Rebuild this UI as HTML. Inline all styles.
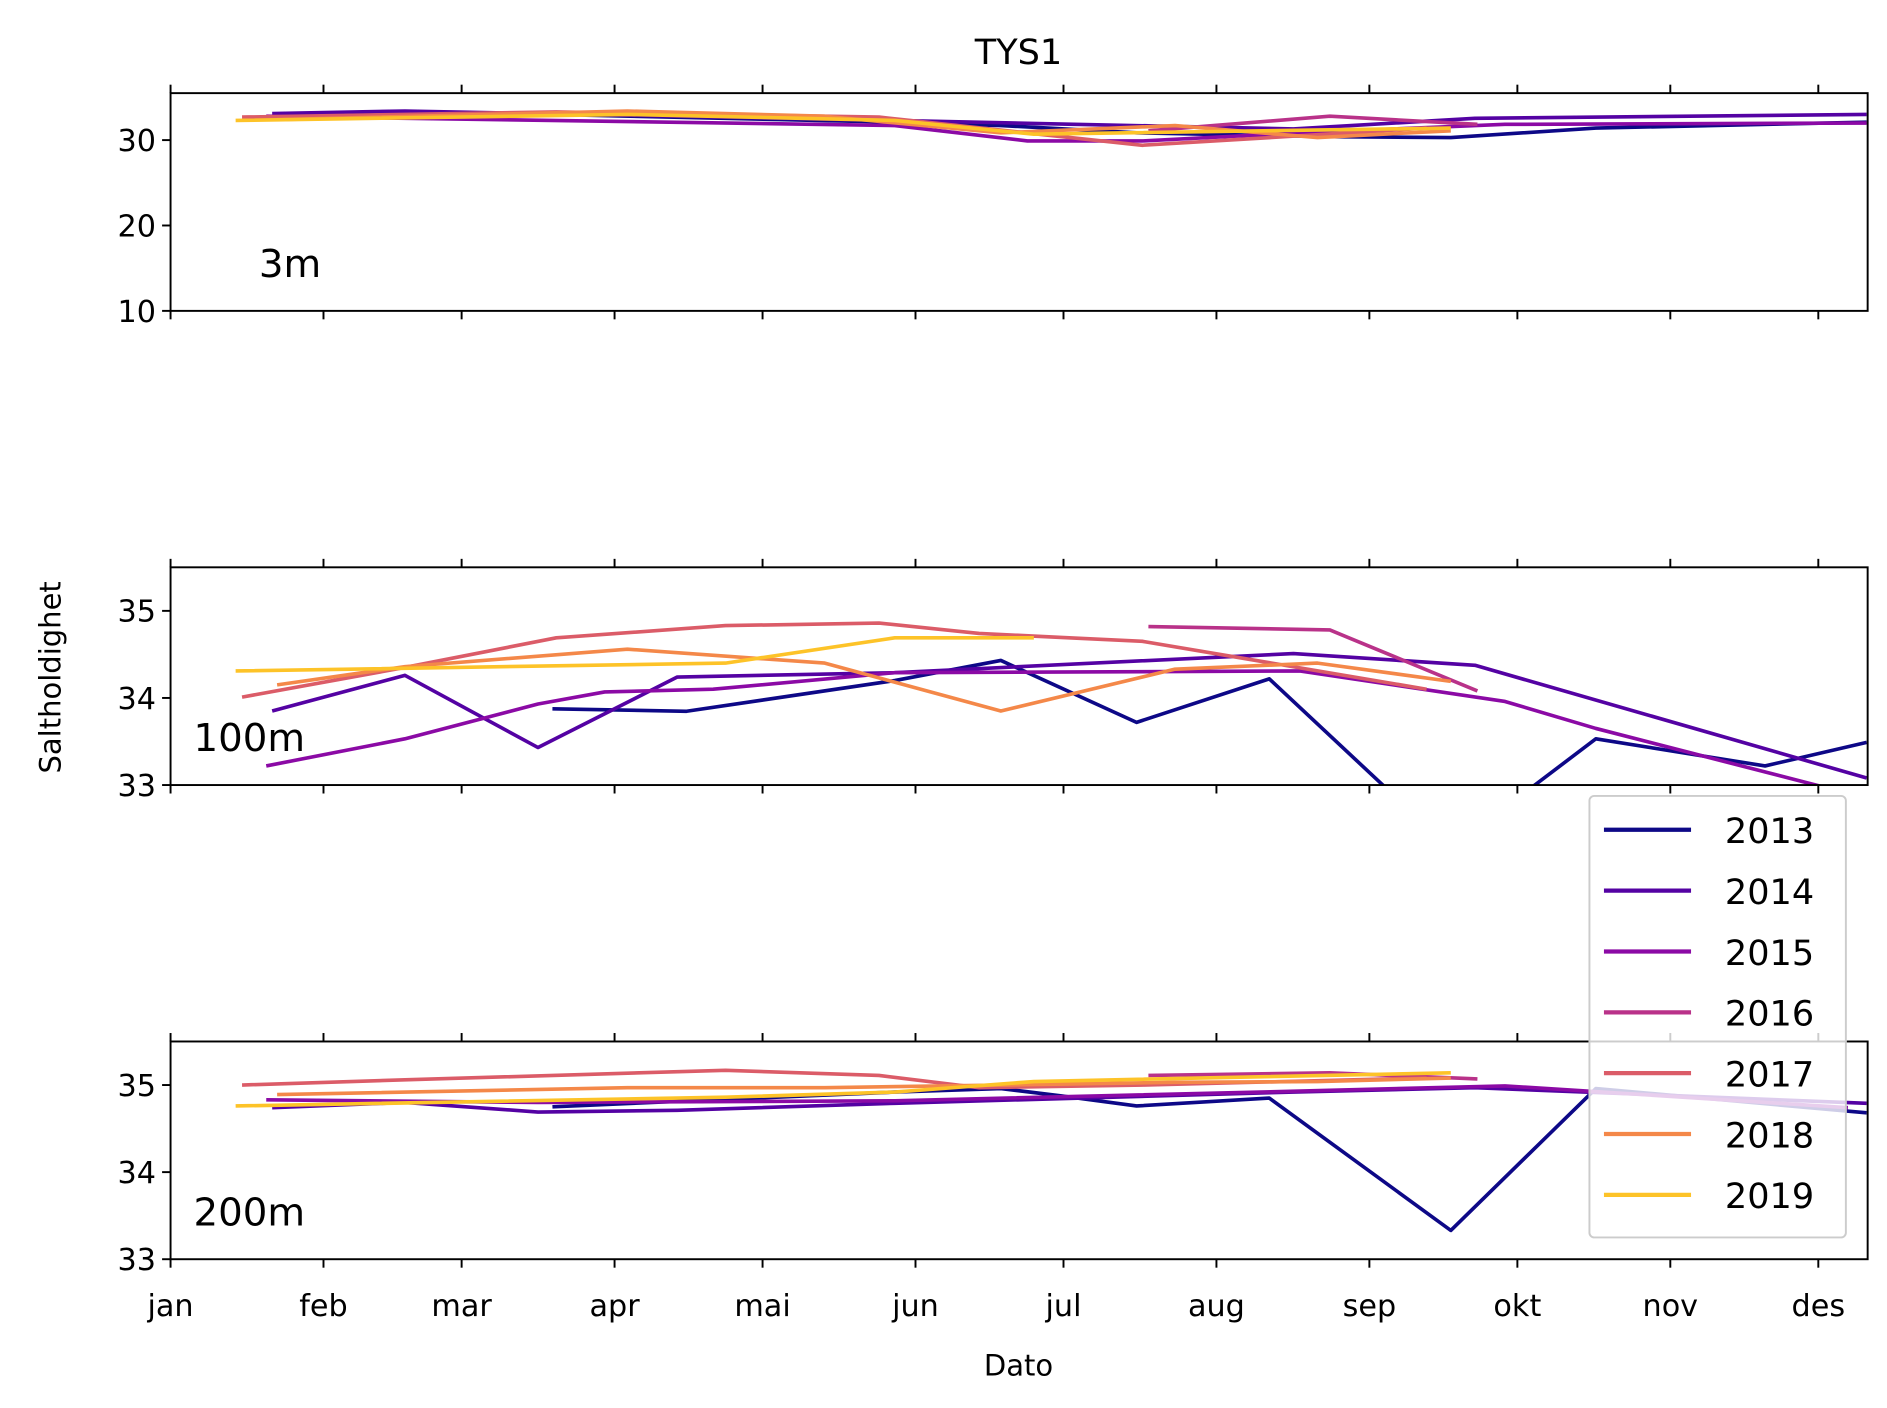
<!DOCTYPE html>
<html><head><meta charset="utf-8"><style>
html,body{margin:0;padding:0;background:#fff}
svg{display:block}
text{font-family:"DejaVu Sans","Liberation Sans",sans-serif;fill:#000}
</style></head><body>
<svg id="chart" width="1887" height="1408" viewBox="0 0 1560 1164" preserveAspectRatio="none" xmlns="http://www.w3.org/2000/svg">
<rect width="1560" height="1164" fill="#fff"/>
<text x="842" y="53" font-size="29" text-anchor="middle">TYS1</text>
<text transform="translate(50,560) rotate(-90)" font-size="24" text-anchor="middle">Saltholdighet</text>
<text x="842" y="1137" font-size="24" text-anchor="middle">Dato</text>
<g id="panels"></g>
<g id="legend"></g>
</svg>
<script>
const years = ["2013","2014","2015","2016","2017","2018","2019"];
const colors = ["#0d0887","#5402a3","#8b0aa5","#b93289","#db5c68","#f48849","#fdc328"];
const monthLabels = ["jan","feb","mar","apr","mai","jun","jul","aug","sep","okt","nov","des"];
const monthDays = [0,31,59,90,120,151,181,212,243,273,304,334];
const depthLabels = ["3m","100m","200m"];
// panel 3m
const days3_2013=[77.4,146.8,168.3,195.8,235,259.5,288.9,343.8];
const vals3_2013=[33.0,32.1,31.7,30.85,30.4,30.3,31.4,32.1];
const days3_2014=[20.6,47.5,102.7,146.8,227.6,264.4,343.8];
const vals3_2014=[33.1,33.4,32.8,32.3,31.3,32.55,33.0];
const days3_2015=[19.4,146.8,173.7,197,228.9,270.5,343.8];
const vals3_2015=[32.8,31.7,29.9,29.9,30.85,31.85,32.0];
const days3_2016=[198.2,235,264.9];
const vals3_2016=[31.1,32.8,31.85];
const days3_2017=[14.5,78.2,143.6,197,254.6];
const vals3_2017=[32.7,33.3,32.7,29.4,31.4];
const days3_2018=[21.6,92.6,132.6,168.3,203.6,232.5,259.5];
const vals3_2018=[32.4,33.4,32.8,30.85,31.7,30.3,31.1];
const days3_2019=[13.2,92.6,146.8,175,259.5];
const vals3_2019=[32.3,33.0,32.3,30.7,31.4];
// panel 100m
const days100_2013=[77.4,104.6,146.8,168.3,195.8,222.7,259.5,288.9,323.2,343.8];
const vals100_2013=[33.875,33.847,34.2,34.43,33.72,34.22,32.27,33.53,33.22,33.49];
const days100_2014=[20.6,47.5,74.5,102.7,146.8,227.6,264.4,343.8];
const vals100_2014=[33.85,34.26,33.43,34.24,34.29,34.51,34.375,33.08];
const days100_2015=[19.4,47.5,74.5,88,110,146.8,228.9,270.5,288.9,343.8];
const vals100_2015=[33.22,33.53,33.93,34.07,34.1,34.29,34.31,33.96,33.65,32.85];
const days100_2016=[198.2,235,264.9];
const vals100_2016=[34.82,34.78,34.08];
const days100_2017=[14.5,47.5,78.2,112.5,143.6,163.9,197,254.6];
const vals100_2017=[34.01,34.35,34.69,34.83,34.86,34.74,34.65,34.1];
const days100_2018=[21.6,47.5,92.6,132.6,168.3,203.6,232.5,259.5];
const vals100_2018=[34.15,34.36,34.56,34.40,33.85,34.33,34.40,34.19];
const days100_2019=[13.2,112.5,146.8,175];
const vals100_2019=[34.31,34.40,34.69,34.69];
// panel 200m
const days200_2013=[77.4,146.8,168.3,180.6,195.8,222.7,259.5,288.9,343.8];
const vals200_2013=[34.75,34.92,34.96,34.875,34.76,34.85,33.33,34.96,34.68];
const days200_2014=[20.6,47.5,74.5,102.7,146.8,227.6,264.4,343.8];
const vals200_2014=[34.74,34.8,34.69,34.71,34.79,34.92,34.97,34.79];
const days200_2015=[19.4,74.5,146.8,228.9,270.5,340];
const vals200_2015=[34.83,34.8,34.82,34.93,34.99,34.74];
const days200_2016=[198.2,235,264.9];
const vals200_2016=[35.11,35.14,35.07];
const days200_2017=[14.5,47.5,112.5,143.6,163.9,197,254.6];
const vals200_2017=[35.0,35.06,35.17,35.11,34.97,35.0,35.08];
const days200_2018=[21.6,92.6,132.6,168.3,203.6,232.5,259.5];
const vals200_2018=[34.89,34.97,34.97,35.0,35.03,35.04,35.08];
const days200_2019=[13.2,112.5,146.8,175,259.5];
const vals200_2019=[34.76,34.86,34.92,35.04,35.14];

const series3=[[days3_2013,vals3_2013],[days3_2014,vals3_2014],[days3_2015,vals3_2015],[days3_2016,vals3_2016],[days3_2017,vals3_2017],[days3_2018,vals3_2018],[days3_2019,vals3_2019]];
const series100=[[days100_2013,vals100_2013],[days100_2014,vals100_2014],[days100_2015,vals100_2015],[days100_2016,vals100_2016],[days100_2017,vals100_2017],[days100_2018,vals100_2018],[days100_2019,vals100_2019]];
const series200=[[days200_2013,vals200_2013],[days200_2014,vals200_2014],[days200_2015,vals200_2015],[days200_2016,vals200_2016],[days200_2017,vals200_2017],[days200_2018,vals200_2018],[days200_2019,vals200_2019]];
const ticks3=[10,20,30];
const ticks100=[33,34,35];
const ticks200=[33,34,35];

const NS="http://www.w3.org/2000/svg";
const L=141,R=1544,XMAX=344;
const xs=d=>L+(R-L)*d/XMAX;
function mk(tag,attrs,parent){const e=document.createElementNS(NS,tag);for(const k in attrs)e.setAttribute(k,attrs[k]);parent.appendChild(e);return e;}
const panelsG=document.getElementById('panels');
const panels=[
 {top:77,bot:257,ymin:10,ymax:35.5,ticks:ticks3,series:series3,label:depthLabels[0],lx:214,ly:229},
 {top:469,bot:649,ymin:33,ymax:35.5,ticks:ticks100,series:series100,label:depthLabels[1],lx:160,ly:621},
 {top:861,bot:1041,ymin:33,ymax:35.5,ticks:ticks200,series:series200,label:depthLabels[2],lx:160,ly:1013}
];
panels.forEach((p,pi)=>{
 const ys=v=>p.bot-(v-p.ymin)/(p.ymax-p.ymin)*(p.bot-p.top);
 const g=mk('g',{},panelsG);
 
 
 const cp=mk('clipPath',{id:'clip'+pi},g);
 mk('rect',{x:L,y:p.top,width:R-L,height:p.bot-p.top},cp);
 const lines=mk('g',{'clip-path':'url(#clip'+pi+')'},g);
 p.series.forEach((s,si)=>{
  const pts=s[0].map((d,i)=>xs(d).toFixed(1)+','+ys(s[1][i]).toFixed(1)).join(' ');
  const pl=mk('polyline',{points:pts,fill:'none',stroke:colors[si],'stroke-width':3,'stroke-linejoin':'round'},lines);
  
  
 });
 mk('rect',{x:L,y:p.top,width:R-L,height:p.bot-p.top,fill:'none',stroke:'#000','stroke-width':1.6},g);
 p.ticks.forEach(t=>{
  const y=ys(t);
  mk('line',{x1:L-7,x2:L,y1:y,y2:y,stroke:'#000','stroke-width':1.6},g);
  const tx=mk('text',{x:L-12,y:y+9,'font-size':25,'text-anchor':'end'},g);
  tx.textContent=t;
  
  
 });
 monthDays.forEach((d,mi)=>{
  const x=xs(d);
  mk('line',{x1:x,x2:x,y1:p.bot,y2:p.bot+7,stroke:'#000','stroke-width':1.6},g);
  mk('line',{x1:x,x2:x,y1:p.top-7,y2:p.top,stroke:'#000','stroke-width':1.6},g);
  if(pi===2){
   const tx=mk('text',{x:x,y:p.bot+47,'font-size':25,'text-anchor':'middle'},g);
   tx.textContent=monthLabels[mi];
   
   
  }
 });
 const lb=mk('text',{x:p.lx,y:p.ly,'font-size':32},g);
 lb.textContent=p.label;
 
 
});
const lg=document.getElementById('legend');


mk('rect',{x:1314,y:658,width:212,height:365,rx:4,fill:'#fff','fill-opacity':0.8,stroke:'#ccc','stroke-width':1.6},lg);
years.forEach((yr,i)=>{
 const y=686+i*50.3;
 const e=mk('g',{},lg);
 
 
 mk('line',{x1:1326,x2:1398,y1:y,y2:y,stroke:colors[i],'stroke-width':3.5},e);
 const t=mk('text',{x:1426,y:y+11,'font-size':29},e);
 t.textContent=yr;
});
</script>
</body></html>
